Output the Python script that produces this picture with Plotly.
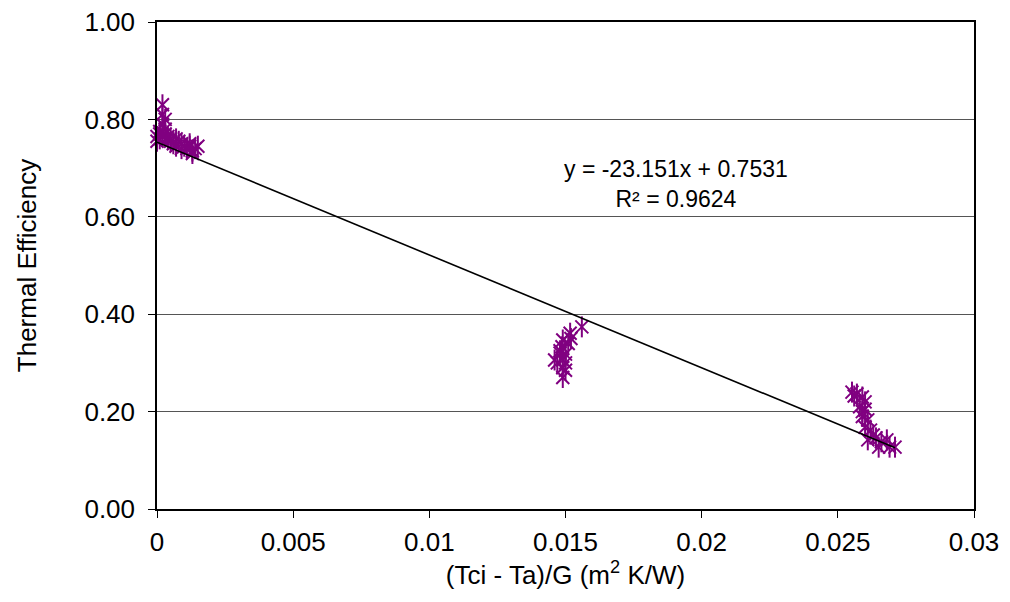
import plotly.graph_objects as go

# Cluster 1 (low temperature difference)
x1 = [0.0001, 0.0001, 0.0002, 0.0002, 0.0003, 0.0002, 0.0003, 0.0001, 0.0000, 0.0000,
      0.0002, 0.0004, 0.0005, 0.0006, 0.0007, 0.0008, 0.0009, 0.0010, 0.0011, 0.0012,
      0.0013, 0.0014, 0.0015, 0.0013, 0.0012, 0.0003, 0.0004, 0.0005, 0.0007, 0.0009]
y1 = [0.760, 0.770, 0.830, 0.810, 0.800, 0.790, 0.780, 0.775, 0.765, 0.755,
      0.765, 0.760, 0.755, 0.750, 0.745, 0.755, 0.750, 0.745, 0.740, 0.745,
      0.735, 0.740, 0.745, 0.730, 0.750, 0.770, 0.765, 0.760, 0.760, 0.740]

# Cluster 2
x2 = [0.0156, 0.01517, 0.0149, 0.01487, 0.0148, 0.0146, 0.0149, 0.0150, 0.0149, 0.0149,
      0.0148, 0.0150, 0.0152, 0.0151, 0.0147, 0.0150]
y2 = [0.374, 0.361, 0.347, 0.333, 0.320, 0.306, 0.306, 0.300, 0.290, 0.270,
      0.325, 0.318, 0.350, 0.340, 0.300, 0.285]

# Cluster 3
x3 = [0.02552, 0.0257, 0.0259, 0.0260, 0.0258, 0.0259, 0.0259, 0.0261, 0.0260, 0.0262,
      0.0263, 0.0264, 0.0266, 0.0268, 0.0269, 0.0271, 0.0265, 0.0261, 0.0256, 0.0260]
y3 = [0.240, 0.236, 0.230, 0.220, 0.210, 0.200, 0.190, 0.183, 0.168, 0.162,
      0.152, 0.146, 0.138, 0.142, 0.127, 0.127, 0.127, 0.142, 0.232, 0.205]

xs = x1 + x2 + x3
ys = y1 + y2 + y3

slope = -23.151
intercept = 0.7531
trend_x = [min(xs), max(xs)]
trend_y = [slope * v + intercept for v in trend_x]

xticks = [0, 0.005, 0.01, 0.015, 0.02, 0.025, 0.03]
xtick_text = ["0", "0.005", "0.01", "0.015", "0.02", "0.025", "0.03"]
yticks = [0, 0.2, 0.4, 0.6, 0.8, 1.0]
ytick_text = ["0.00", "0.20", "0.40", "0.60", "0.80", "1.00"]

FONT = "Liberation Sans, Arial, sans-serif"
PURPLE = "#800080"
FS = 26

fig = go.Figure()
# Excel "star" marker: an x with a vertical bar through it
fig.add_trace(go.Scatter(
    x=xs, y=ys, mode="markers", cliponaxis=False,
    marker=dict(symbol="x-thin-open", size=13, color=PURPLE,
                line=dict(color=PURPLE, width=2)),
    showlegend=False, name="Efficiency"))
fig.add_trace(go.Scatter(
    x=xs, y=ys, mode="markers", cliponaxis=False,
    marker=dict(symbol="line-ns-open", size=15, color=PURPLE,
                line=dict(color=PURPLE, width=2)),
    showlegend=False, hoverinfo="skip"))
fig.add_trace(go.Scatter(
    x=trend_x, y=trend_y, mode="lines",
    line=dict(color="black", width=1.6), showlegend=False, name="Linear fit"))

fig.add_annotation(x=0.01906, y=0.667, xref="x", yref="y",
                   text="y = -23.151x + 0.7531<br>R² = 0.9624",
                   showarrow=False, align="center",
                   font=dict(family=FONT, size=23, color="black"))

fig.update_layout(
    width=1010, height=602,
    margin=dict(l=157, r=36, t=22, b=93, autoexpand=False),
    paper_bgcolor="white", plot_bgcolor="white",
    font=dict(family=FONT, size=FS, color="black"),
)
fig.update_xaxes(
    range=[0, 0.03], tickvals=xticks, ticktext=xtick_text, automargin=False,
    showgrid=False, zeroline=False, showline=True, linecolor="black", linewidth=1.5,
    mirror=True, ticks="outside", ticklen=7, tickcolor="black",
    ticklabelstandoff=2,
    title=dict(text="(Tci - Ta)/G (m<sup>2</sup> K/W)", standoff=10,
               font=dict(family=FONT, size=FS)),
    tickfont=dict(family=FONT, size=FS),
)
fig.update_yaxes(
    range=[0, 1.0], tickvals=yticks, ticktext=ytick_text, automargin=False,
    showgrid=True, gridcolor="#555555", gridwidth=1,
    zeroline=False, showline=True, linecolor="black", linewidth=1.5,
    mirror=True, ticks="outside", ticklen=7, tickcolor="black",
    ticklabelstandoff=8,
    title=dict(text="Thermal Efficiency", standoff=40,
               font=dict(family=FONT, size=FS)),
    tickfont=dict(family=FONT, size=FS),
)

fig.write_html("out.html")
